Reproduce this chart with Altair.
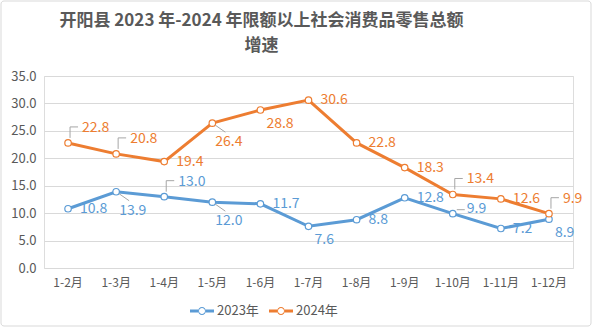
import altair as alt
import pandas as pd

months = ["1-2月", "1-3月", "1-4月", "1-5月", "1-6月", "1-7月", "1-8月", "1-9月", "1-10月", "1-11月", "1-12月"]
v2023 = [10.8, 13.9, 13.0, 12.0, 11.7, 7.6, 8.8, 12.8, 9.9, 7.2, 8.9]
v2024 = [22.8, 20.8, 19.4, 26.4, 28.8, 30.6, 22.8, 18.3, 13.4, 12.6, 9.9]
# label placement group per point: r=right, u=up-right with leader, d=down-right with leader,
# b=below-right, s=slightly up-right with short leader
pos2023 = ["r", "d", "u", "d", "r", "b", "r", "r", "s", "r", "b"]
pos2024 = ["u", "u", "r", "d", "b", "r", "r", "r", "u", "r", "u"]
series = ["2023年", "2024年"]
colors = ["#5B9BD5", "#ED7D31"]

rows = []
for s, vals, poss in ((series[0], v2023, pos2023), (series[1], v2024, pos2024)):
    for m, v, p in zip(months, vals, poss):
        rows.append({"month": m, "series": s, "value": v, "pos": p})
df = pd.DataFrame(rows)

FONT = "Noto Sans CJK SC"
GRAY = "#595959"

x = alt.X("month:N", sort=months, title=None,
          axis=alt.Axis(labelAngle=0, grid=False, domain=False, ticks=False, tickSize=0,
                        labelPadding=9, labelFontSize=12, labelFont=FONT, labelColor=GRAY))
y = alt.Y("value:Q", title=None, scale=alt.Scale(domain=[0, 35]),
          axis=alt.Axis(values=[0, 5, 10, 15, 20, 25, 30, 35], format=".1f", domain=False, ticks=False,
                        tickSize=0, labelPadding=8, labelFontSize=13, labelFont=FONT, labelColor=GRAY,
                        gridColor="#D9D9D9", gridWidth=1))

# filled legend glyph: two line stubs plus an open ring
legend_symbol = (
    "M-1,-0.125 L-0.333,-0.125 L-0.333,0.125 L-1,0.125 Z "
    "M0.333,-0.125 L1,-0.125 L1,0.125 L0.333,0.125 Z "
    "M-0.333,0 A0.333,0.333 0 1,0 0.333,0 A0.333,0.333 0 1,0 -0.333,0 Z "
    "M-0.25,0 A0.25,0.25 0 1,1 0.25,0 A0.25,0.25 0 1,1 -0.25,0 Z"
)

cscale = alt.Scale(domain=series, range=colors)
color_lg = alt.Color("series:N", scale=cscale,
                     legend=alt.Legend(title=None, orient="none", direction="horizontal",
                                       legendX=146, legendY=223,
                                       symbolType=legend_symbol, symbolSize=576, symbolStrokeWidth=0,
                                       labelFont=FONT, labelFontSize=13, labelColor=GRAY,
                                       columnPadding=10, labelOffset=3))
color_nl = alt.Color("series:N", scale=cscale, legend=None)

base = alt.Chart(df).encode(x=x, y=y)

line = base.mark_line(strokeWidth=3).encode(color=color_lg)
points = base.mark_point(shape="circle", size=42, filled=False, fill="white", strokeWidth=1.2,
                         opacity=1).encode(color=color_nl)

lead_col = "#A6A6A6"
lead_v = base.transform_filter(alt.datum.pos == "u").mark_rule(
    color=lead_col, strokeWidth=1, xOffset=2, yOffset=-5, y2Offset=-16
).encode(y2=alt.Y2("value:Q"))
lead_h = base.transform_filter(alt.datum.pos == "u").mark_rule(
    color=lead_col, strokeWidth=1, xOffset=2, x2Offset=10, yOffset=-16
).encode(x2=alt.X2("month:N"))
lead_d = base.transform_filter(alt.datum.pos == "d").mark_rule(
    color=lead_col, strokeWidth=1, xOffset=3, yOffset=2, x2Offset=13, y2Offset=9
).encode(x2=alt.X2("month:N"), y2=alt.Y2("value:Q"))
lead_s = base.transform_filter(alt.datum.pos == "s").mark_rule(
    color=lead_col, strokeWidth=1, xOffset=4, x2Offset=12, yOffset=-4
).encode(x2=alt.X2("month:N"))

def labels(p, dx, dy):
    return base.transform_filter(alt.datum.pos == p).mark_text(
        align="left", baseline="middle", dx=dx, dy=dy, fontSize=14, font=FONT
    ).encode(text=alt.Text("value:Q", format=".1f"), color=color_nl)

frame = alt.Chart(alt.Data(values=[{}])).mark_rect(
    fill=None, stroke="#D9D9D9", strokeWidth=1, cornerRadius=3
).encode(x=alt.value(-43), x2=alt.value(547), y=alt.value(-75), y2=alt.value(250))

chart = alt.layer(
    frame, line, points, lead_v, lead_h, lead_d, lead_s,
    labels("r", 12, 0), labels("u", 14, -15), labels("d", 3, 19), labels("b", 6, 14),
    labels("s", 14, -5)
).properties(
    width=529, height=192,
    title=alt.TitleParams(
        text=["开阳县 2023 年-2024 年限额以上社会消费品零售总额", "增速"],
        fontSize=17, font=FONT, fontWeight="bold", color=GRAY, anchor="middle", frame="group",
        lineHeight=25, offset=-54, dx=-47
    ),
    padding={"left": 44, "top": 76, "right": 20, "bottom": 60},
    autosize=alt.AutoSizeParams(type="none"),
).configure_view(stroke=None).configure(background="white")

chart.save("out.html", embed_options={"renderer": "svg", "actions": False})
